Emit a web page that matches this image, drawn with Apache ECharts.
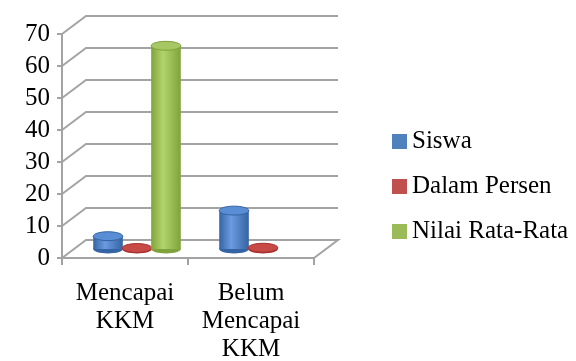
<!DOCTYPE html>
<html>
<head>
<meta charset="utf-8">
<script src="https://cdn.jsdelivr.net/npm/echarts@6/dist/echarts.min.js"></script>
<style>
  html, body { margin: 0; padding: 0; background: #fff; }
  #chart { width: 576px; height: 361px; }
</style>
</head>
<body>
<div id="chart"></div>
<script>
// data
const categories = ['Mencapai\nKKM', 'Belum\nMencapai\nKKM'];
const siswa = [4, 12];
const dalamPersen = [0.3, 0.4];
const nilaiRataRata = [63.5, null];
const yTicks = [0, 10, 20, 30, 40, 50, 60, 70];

const FONT = 'Liberation Serif';
const DX = 24, DY = 18;   // depth of the fake 3d box
const wallColor = '#a3a3a3';

let myChart = echarts.init(document.getElementById('chart'));

function wallItem(params, api) {
  const cs = params.coordSys;
  const v = api.value(1);
  const y = api.coord([0, v])[1];
  const pts = [[cs.x, y], [cs.x + DX, y - DY], [cs.x + cs.width + DX, y - DY]];
  if (v === 0) pts.push([cs.x + cs.width, y]);
  return {
    type: 'polyline',
    shape: { points: pts },
    style: { stroke: wallColor, lineWidth: 2, fill: null }
  };
}

function cylinder(off, c) {
  return function (params, api) {
    const cat = api.value(0);
    const v = api.value(1);
    if (v == null || isNaN(v)) return;
    const band = api.size([1, 0])[0];
    const base = api.coord([cat, 0]);
    const top = api.coord([cat, v]);
    const w = band * 0.235;
    const cx = base[0] + off * band * 0.23 + DX / 2;
    const by = base[1] - DY / 2;
    const ty = top[1] - DY / 2;
    const ry = w * 0.15;
    const body = new echarts.graphic.LinearGradient(0, 0, 1, 0, [
      { offset: 0, color: c.dark },
      { offset: 0.4, color: c.light },
      { offset: 1, color: c.dark }
    ]);
    return {
      type: 'group',
      children: [
        { type: 'ellipse', shape: { cx: cx, cy: by, rx: w / 2, ry: ry }, style: { fill: c.dark } },
        { type: 'rect', shape: { x: cx - w / 2, y: ty, width: w, height: Math.max(by - ty, 0) }, style: { fill: body } },
        { type: 'ellipse', shape: { cx: cx, cy: ty, rx: w / 2, ry: ry }, style: { fill: c.top, stroke: c.dark, lineWidth: 1 } }
      ]
    };
  };
}

const blue = { base: '#4f81bd', dark: '#3464a3', light: '#6b9be0', top: '#5a8ed4' };
const red = { base: '#c0504d', dark: '#a8302e', light: '#d45a57', top: '#c84a47' };
const green = { base: '#9bbb59', dark: '#7fa33a', light: '#b2d46e', top: '#a7c765' };

function toData(arr) {
  return arr.map((v, i) => [i, v == null ? '-' : v]);
}

let option = {
  animation: false,
  backgroundColor: '#fff',
  textStyle: { fontFamily: FONT },
  grid: { left: 62, right: 262, top: 34, bottom: 103, containLabel: false, outerBoundsMode: 'none' },
  legend: {
    orient: 'vertical',
    left: 387,
    top: 124,
    itemGap: 20,
    itemWidth: 15,
    itemHeight: 15,
    itemStyle: { borderWidth: 0 },
    textStyle: { fontFamily: FONT, fontSize: 25, color: '#000', padding: [0, 0, 0, 0] },
    data: [
      { name: 'Siswa', icon: 'rect' },
      { name: 'Dalam Persen', icon: 'rect' },
      { name: 'Nilai Rata-Rata', icon: 'rect' }
    ]
  },
  xAxis: {
    type: 'category',
    data: categories,
    axisLine: { lineStyle: { color: wallColor, width: 2 } },
    axisTick: { show: true, length: 7, alignWithLabel: false, interval: 0, lineStyle: { color: wallColor, width: 2 } },
    axisLabel: { fontFamily: FONT, fontSize: 25, color: '#000', lineHeight: 28, margin: 21, interval: 0 }
  },
  yAxis: {
    type: 'value',
    min: 0,
    max: 70,
    interval: 10,
    axisLine: { show: true, lineStyle: { color: wallColor, width: 2 } },
    axisTick: { show: true, length: 5, lineStyle: { color: wallColor, width: 2 } },
    splitLine: { show: false },
    axisLabel: { fontFamily: FONT, fontSize: 25, color: '#000', margin: 12 }
  },
  series: [
    {
      name: 'wall',
      type: 'custom',
      silent: true,
      z: 1,
      renderItem: wallItem,
      encode: { x: 0, y: 1 },
      data: yTicks.map(v => [0, v])
    },
    {
      name: 'Siswa',
      type: 'custom',
      z: 3,
      itemStyle: { color: blue.base },
      renderItem: cylinder(-1, blue),
      encode: { x: 0, y: 1 },
      data: toData(siswa)
    },
    {
      name: 'Dalam Persen',
      type: 'custom',
      z: 3,
      itemStyle: { color: red.base },
      renderItem: cylinder(0, red),
      encode: { x: 0, y: 1 },
      data: toData(dalamPersen)
    },
    {
      name: 'Nilai Rata-Rata',
      type: 'custom',
      z: 3,
      itemStyle: { color: green.base },
      renderItem: cylinder(1, green),
      encode: { x: 0, y: 1 },
      data: toData(nilaiRataRata)
    }
  ]
};

option && myChart.setOption(option);
</script>
</body>
</html>
